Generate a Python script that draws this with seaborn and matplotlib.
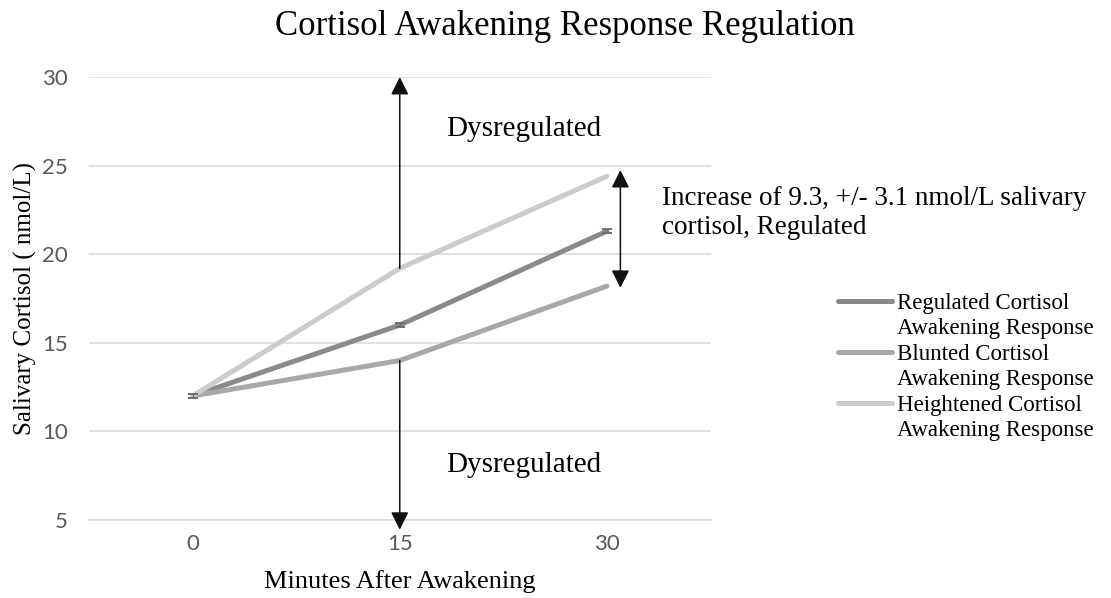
import matplotlib
matplotlib.use('Agg')
import matplotlib.pyplot as plt
from matplotlib.lines import Line2D
import pandas as pd
import seaborn as sns

# Data
minutes = ['0', '15', '30']
series_names = ['Regulated Cortisol', 'Blunted Cortisol', 'Heightened Cortisol']
regulated = [12.0, 16.0, 21.3]
regulated_err = [0.1, 0.1, 0.1]
blunted = [12.0, 14.0, 18.2]
heightened = [12.0, 19.2, 24.4]
series_colors = ['#8a8a8a', '#a8a8a8', '#cccccc']
y_ticks = [5, 10, 15, 20, 25, 30]
regulated_band = [18.1, 24.75]   # ends of the double arrow at 30 min
dysregulated_ends = [30.0, 4.45]  # tips of the up / down arrows at 15 min

df = pd.DataFrame({
    'minutes': minutes * 3,
    'cortisol': regulated + blunted + heightened,
    'series': [n for n in series_names for _ in minutes],
})

# Make plot.
sns.set_style('white')
plt.rcParams['font.family'] = ['Liberation Serif', 'DejaVu Serif']
plt.rcParams['text.color'] = 'black'
plt.rcParams['axes.labelcolor'] = 'black'
fig = plt.figure(figsize=(11.11, 5.98), dpi=100)
ax = fig.add_axes([89 / 1111, 1 - 520 / 598, 621.5 / 1111, 443 / 598])

sns.lineplot(data=df, x='minutes', y='cortisol', hue='series',
             palette=dict(zip(series_names, series_colors)), linewidth=3.6,
             sort=False, legend=False, ax=ax, solid_capstyle='round')
handles = list(ax.lines[:3])
ax.errorbar(minutes, regulated, yerr=regulated_err, fmt='none', ecolor='#6e6e6e',
            elinewidth=1.0, capsize=3.5, capthick=1.4)

# Axes styling.
ax.set_xlim(-0.5, 2.5)
ax.set_ylim(y_ticks[0], y_ticks[-1])
ax.set_yticks(y_ticks)
ax.yaxis.grid(True, color='#d9d9d9', linewidth=1.1)
for side in ['top', 'right', 'left']:
    ax.spines[side].set_visible(False)
ax.spines['bottom'].set_color('#d9d9d9')
ax.spines['bottom'].set_linewidth(1.1)
ax.tick_params(axis='both', which='major', length=0, labelsize=16,
               labelcolor='#595959', labelfontfamily='Lato')
ax.tick_params(axis='x', pad=10)
ax.tick_params(axis='y', pad=15.5)
ax.set_xticks([-0.5], minor=True)
ax.tick_params(axis='x', which='minor', length=5, color='#d9d9d9', width=1.1)

ax.set_xlabel('Minutes After Awakening', fontsize=19)
ax.set_ylabel('Salivary Cortisol ( nmol/L)', fontsize=18)
ax.xaxis.set_label_coords(0.5, -0.112)
ax.yaxis.set_label_coords(-0.0837, 0.5)

# Arrows.
head = 'head_length=0.8,head_width=0.4'
arrow_kw = dict(mutation_scale=13.5, color='#111111', lw=1.1, shrinkA=0, shrinkB=0)
ax.annotate('', xy=(1, dysregulated_ends[0]), xytext=(1, heightened[1]),
            arrowprops=dict(arrowstyle='-|>,' + head, **arrow_kw), annotation_clip=False)
ax.annotate('', xy=(1, dysregulated_ends[1]), xytext=(1, blunted[1]),
            arrowprops=dict(arrowstyle='-|>,' + head, **arrow_kw), annotation_clip=False)
ax.annotate('', xy=(2.065, regulated_band[1]), xytext=(2.065, regulated_band[0]),
            arrowprops=dict(arrowstyle='<|-|>,' + head, **arrow_kw), annotation_clip=False)

ax.text(1.6, 26.67, 'Dysregulated', ha='center', va='baseline', fontsize=21)
ax.text(1.6, 7.71, 'Dysregulated', ha='center', va='baseline', fontsize=21)
fig.text(662 / 1111, 1 - 186 / 598,
         'Increase of 9.3, +/- 3.1 nmol/L salivary\ncortisol, Regulated',
         ha='left', va='top', fontsize=19.5, linespacing=1.22)

fig.text(565 / 1111, 1 - 35 / 598, 'Cortisol Awakening Response Regulation',
         ha='center', va='baseline', fontsize=25)

# Legend: two-line labels, handle beside the first line.
blank = Line2D([], [], color='none')
leg_handles = [handles[0], blank, handles[1], blank, handles[2], blank]
leg_labels = ['Regulated Cortisol', 'Awakening Response',
              'Blunted Cortisol', 'Awakening Response',
              'Heightened Cortisol', 'Awakening Response']
fig.legend(leg_handles, leg_labels, loc='upper left',
           bbox_to_anchor=(838 / 1111, 1 - 293 / 598), bbox_transform=fig.transFigure,
           frameon=False, fontsize=16.5, handlelength=2.35, handletextpad=0.22,
           labelspacing=0.19, borderpad=0, borderaxespad=0)

plt.savefig('out.png', dpi=100)
